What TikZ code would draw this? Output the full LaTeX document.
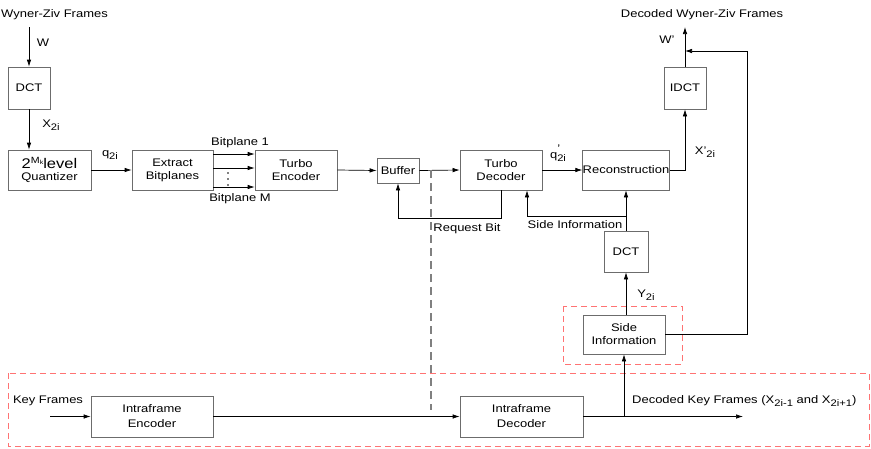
\documentclass[tikz,border=0pt]{standalone}
\usepackage{fontspec}
\setmainfont[FakeStretch=1.18]{Liberation Sans}
\usetikzlibrary{arrows.meta}
\newcommand{\mysub}[1]{\raisebox{-0.5ex}{\fontsize{9.5}{9.5}\selectfont #1}}
\begin{document}
\begin{tikzpicture}[x=1pt,y=-1pt, font=\fontsize{11}{13}\selectfont,
  box/.style={draw=gray!85!black, line width=0.7pt, align=center, inner sep=0pt},
  arr/.style={-{Latex[length=7pt,width=4.5pt]}, line width=0.7pt},
  lbl/.style={inner sep=0pt, align=center},
  reddash/.style={draw=red!55!white, dash pattern=on 6pt off 4pt, line width=0.8pt},
  graydash/.style={draw=gray, dash pattern=on 8pt off 5pt, line width=1.2pt}]
\useasboundingbox (0,0) rectangle (871,448);

% red dashed regions
\draw[reddash] (8,373) rectangle (869,446);
\draw[reddash] (563,306) rectangle (682,364);

% boxes
\node[box, minimum width=42, minimum height=42] (dct1) at (29,88) {DCT};
\node[box, minimum width=83, minimum height=40] (quant) at (49.5,170)
  {{\fontsize{14}{15}\selectfont 2\raisebox{0.75ex}{\fontsize{9}{9}\selectfont M\raisebox{-0.35ex}{\fontsize{6}{6}\selectfont k}}level}\\[-1pt]Quantizer};
\node[box, minimum width=81, minimum height=40] (extract) at (172.5,170) {Extract\\Bitplanes};
\node[box, minimum width=82, minimum height=40] (tenc) at (296,170) {Turbo\\Encoder};
\node[box, minimum width=42, minimum height=25] (buffer) at (398,170.5) {Buffer};
\node[box, minimum width=82, minimum height=40] (tdec) at (501,170) {Turbo\\Decoder};
\node[box, minimum width=86, minimum height=40] (recon) at (626,170) {Reconstruction};
\node[box, minimum width=42, minimum height=42] (idct) at (685,88) {IDCT};
\node[box, minimum width=44, minimum height=41] (dct2) at (626,251.5) {DCT};
\node[box, minimum width=82, minimum height=39] (sinfo) at (624,334.5) {Side\\Information};
\node[box, minimum width=122, minimum height=41] (ienc) at (152,416.5) {Intraframe\\[2pt]Encoder};
\node[box, minimum width=123, minimum height=41] (idec) at (521.5,416.5) {Intraframe\\[2pt]Decoder};

% texts
\node[lbl, anchor=west] (wz) at (1,15) {Wyner-Ziv Frames};
\node[lbl] (wlbl) at (43,43) {W};
\node[lbl] (xlbl) at (51,125) {X\mysub{2i}};
\node[lbl] (qlbl) at (110,155) {q\mysub{2i}};
\node[lbl] (bp1) at (240,143) {Bitplane 1};
\node[lbl] (bpm) at (240,199) {Bitplane M};
\node[lbl] (rqb) at (467,229) {Request Bit};
\node[lbl] (qplbl) at (558,153) {q\makebox[0pt][l]{\raisebox{1.1ex}{'}}\mysub{2i}};
\node[lbl] (sil) at (575,225) {Side Information};
\node[lbl] (xplbl) at (705,152) {X'\mysub{2i}};
\node[lbl] (wplbl) at (667,40) {W'};
\node[lbl] (dwz) at (702,15) {Decoded Wyner-Ziv Frames};
\node[lbl] (ylbl) at (646,295) {Y\mysub{2i}};
\node[lbl, anchor=west] (dkf) at (632,401) {Decoded Key Frames (X\mysub{2i-1} and X\mysub{2i+1})};
\node[lbl] (kf) at (48,401) {Key Frames};

% dots between bitplanes
\foreach \yy in {173,179,185} \fill (228,\yy) circle (0.8pt);

% coordinates
\coordinate (wzin) at (29,27);
\coordinate (wout) at (685,27);
\coordinate (fbc) at (747,51);
\coordinate (fbj) at (685,51);
\coordinate (sij) at (626,216);
\coordinate (kin) at (50,416.5);
\coordinate (kout) at (743,416.5);
\coordinate (gd1) at (431,170);
\coordinate (gd2) at (431,410);

% connectors
\draw[arr] (wzin) -- (dct1.north);
\draw[arr] (dct1.south) -- (dct1.south |- quant.north);
\draw[arr] (quant.east) -- (extract.west);
\draw[arr] ([yshift=16pt]extract.east) -- ([yshift=16pt]tenc.west);
\draw[arr] ([yshift=2pt]extract.east) -- ([yshift=2pt]tenc.west);
\draw[arr] ([yshift=-17pt]extract.east) -- ([yshift=-17pt]tenc.west);
\draw[arr] (tenc.east) -- (buffer.west);
\draw[arr] (buffer.east) -- (tdec.west);
\draw[arr] (tdec.south) -- ++(0,28) -| (buffer.south);
\draw[arr] (tdec.east) -- (recon.west);
\draw[arr] (recon.east) -| (idct.south);
\draw[arr] (idct.north) -- (wout);
\draw[arr] (sinfo.east) -| (fbc) -- (fbj);
\draw[arr] (dct2.north) -- (recon.south);
\draw[arr] (sij) -| ([xshift=26pt]tdec.south);
\draw[arr] (dct2.south |- sinfo.north) -- (dct2.south);
\draw[arr] (kin) -- (ienc.west);
\draw[arr] (ienc.east) -- (idec.west);
\draw[arr] (idec.east) -- (kout);
\draw[arr] (idec.east -| sinfo.south) -- (sinfo.south);
\draw[graydash] (gd1) -- (gd2);
\end{tikzpicture}
\end{document}
